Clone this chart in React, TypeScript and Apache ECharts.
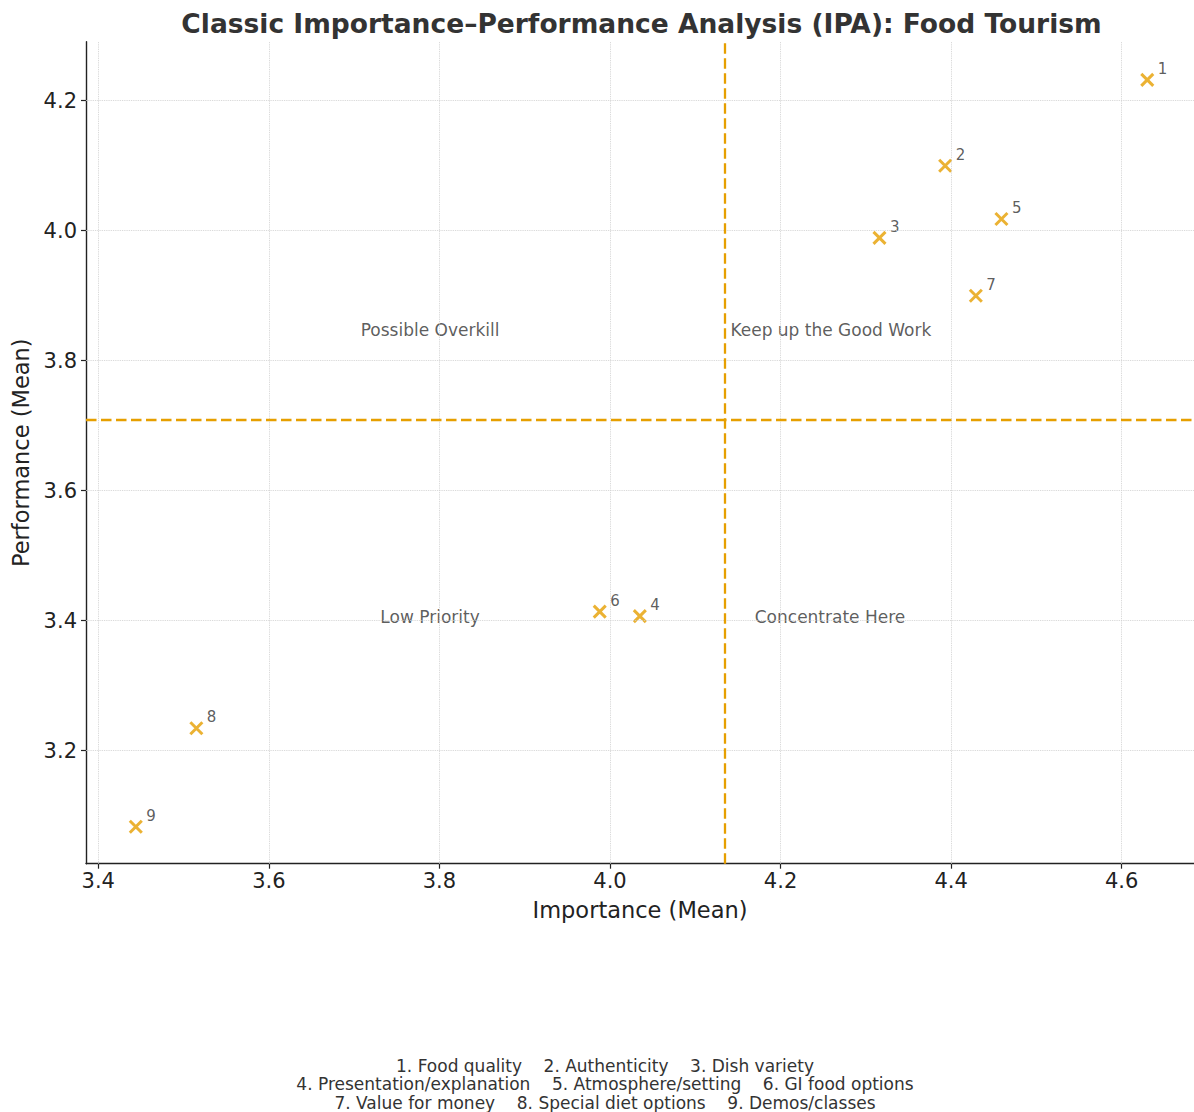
import React, { useEffect, useRef } from "react";
import * as echarts from "echarts";

const pointIds = ["1", "2", "3", "4", "5", "6", "7", "8", "9"];
const importance = [4.63, 4.393, 4.316, 4.035, 4.459, 3.988, 4.429, 3.515, 3.444];
const performance = [4.232, 4.1, 3.989, 3.407, 4.018, 3.414, 3.9, 3.2345, 3.083];
const attributeNames = [
  "Food quality",
  "Authenticity",
  "Dish variety",
  "Presentation/explanation",
  "Atmosphere/setting",
  "GI food options",
  "Value for money",
  "Special diet options",
  "Demos/classes",
];
const xTicks = [3.4, 3.6, 3.8, 4.0, 4.2, 4.4, 4.6];
const yTicks = [3.2, 3.4, 3.6, 3.8, 4.0, 4.2];
const quadrantNames = ["Possible Overkill", "Keep up the Good Work", "Low Priority", "Concentrate Here"];
const quadrantX = [3.789, 4.259, 3.789, 4.258];
const quadrantY = [3.847, 3.847, 3.405, 3.405];

const FONT = '"DejaVu Sans", sans-serif';
const ORANGE = "#E69F00";

export default function App() {
  const ref = useRef<HTMLDivElement>(null);
  useEffect(() => {
    if (!ref.current) return;
    const chart = echarts.init(ref.current, null, { renderer: "svg" });
    const meanX = importance.reduce((a, b) => a + b, 0) / importance.length;
    const meanY = performance.reduce((a, b) => a + b, 0) / performance.length;
    const legendLines: string[] = [];
    for (let i = 0; i < attributeNames.length; i += 3) {
      legendLines.push(
        attributeNames
          .slice(i, i + 3)
          .map((n, j) => `${i + j + 1}. ${n}`)
          .join("    ")
      );
    }
    const gridLineStyle = { type: "dotted", color: "#d0d0d0", width: 0.9 };
    chart.setOption({
      animation: false,
      backgroundColor: "#ffffff",
      textStyle: { fontFamily: FONT },
      grid: { left: 86, top: 41.7, right: 0, bottom: 248.3, containLabel: false },
      xAxis: {
        type: "value",
        min: 3.3856,
        max: 4.6848,
        name: "Importance (Mean)",
        nameLocation: "middle",
        nameGap: 35,
        nameTextStyle: { fontSize: 22.5, color: "#222", fontFamily: FONT },
        axisLine: { show: true, onZero: false, lineStyle: { color: "#222", width: 1.4 } },
        axisTick: { show: true, inside: false, length: 5, customValues: xTicks, lineStyle: { color: "#222", width: 1.2 } },
        axisLabel: {
          show: true,
          customValues: xTicks,
          margin: 7,
          fontSize: 21,
          color: "#222",
          fontFamily: FONT,
          formatter: (v: number) => v.toFixed(1),
        },
        splitLine: { show: false },
      },
      yAxis: {
        type: "value",
        min: 3.02615,
        max: 4.29077,
        name: "Performance (Mean)",
        nameLocation: "middle",
        nameGap: 53,
        nameTextStyle: { fontSize: 22.5, color: "#222", fontFamily: FONT },
        axisLine: { show: true, onZero: false, lineStyle: { color: "#222", width: 1.4 } },
        axisTick: { show: true, inside: false, length: 5, customValues: yTicks, lineStyle: { color: "#222", width: 1.2 } },
        axisLabel: {
          show: true,
          customValues: yTicks,
          margin: 9,
          fontSize: 21,
          color: "#222",
          fontFamily: FONT,
          formatter: (v: number) => v.toFixed(1),
        },
        splitLine: { show: false },
      },
      series: [
        {
          type: "scatter",
          name: "grid",
          data: [],
          silent: true,
          markLine: {
            silent: true,
            symbol: "none",
            precision: 6,
            label: { show: false },
            lineStyle: gridLineStyle,
            data: [...xTicks.map((v) => ({ xAxis: v })), ...yTicks.map((v) => ({ yAxis: v }))],
          },
          z: 1,
        },
        {
          type: "scatter",
          name: "means",
          data: [],
          silent: true,
          markLine: {
            silent: true,
            symbol: "none",
            precision: 6,
            label: { show: false },
            lineStyle: { type: [10.5, 4.5], color: ORANGE, width: 2.3 },
            data: [{ xAxis: meanX }, { yAxis: meanY }],
          },
          z: 2,
        },
        {
          type: "scatter",
          name: "quadrants",
          silent: true,
          symbolSize: 1,
          itemStyle: { color: "rgba(0,0,0,0)" },
          label: {
            show: true,
            position: "inside",
            formatter: (p: any) => quadrantNames[p.dataIndex],
            fontSize: 17,
            color: "#333",
            fontFamily: FONT,
          },
          data: quadrantX.map((x, i) => [x, quadrantY[i]]),
          z: 3,
        },
        {
          type: "scatter",
          name: "attributes",
          symbol: "path://M0,0L10,10M10,0L0,10",
          symbolSize: 12,
          itemStyle: { color: "rgba(0,0,0,0)", borderColor: ORANGE, borderWidth: 3 },
          label: {
            show: true,
            position: "right",
            distance: 3,
            offset: [0, -11],
            formatter: (p: any) => pointIds[p.dataIndex],
            fontSize: 15,
            color: "#333",
            fontFamily: FONT,
          },
          data: importance.map((x, i) => [x, performance[i]]),
          z: 4,
        },
      ],
      graphic: [
        {
          type: "text",
          style: {
            text: "Classic Importance–Performance Analysis (IPA): Food Tourism",
            x: 641.5,
            y: 23,
            align: "center",
            verticalAlign: "middle",
            font: `bold 26.5px ${FONT}`,
            fill: "#333",
          },
        },
        {
          type: "text",
          style: {
            text: legendLines.join("\n"),
            x: 605,
            y: 1056.5,
            align: "center",
            verticalAlign: "top",
            font: `17px ${FONT}`,
            lineHeight: 18.5,
            fill: "#333",
          },
        },
      ],
    });
    return () => chart.dispose();
  }, []);
  return (
    <div
      ref={ref}
      style={{ position: "absolute", left: 0, top: 0, width: 1194, height: 1112 }}
    />
  );
}
